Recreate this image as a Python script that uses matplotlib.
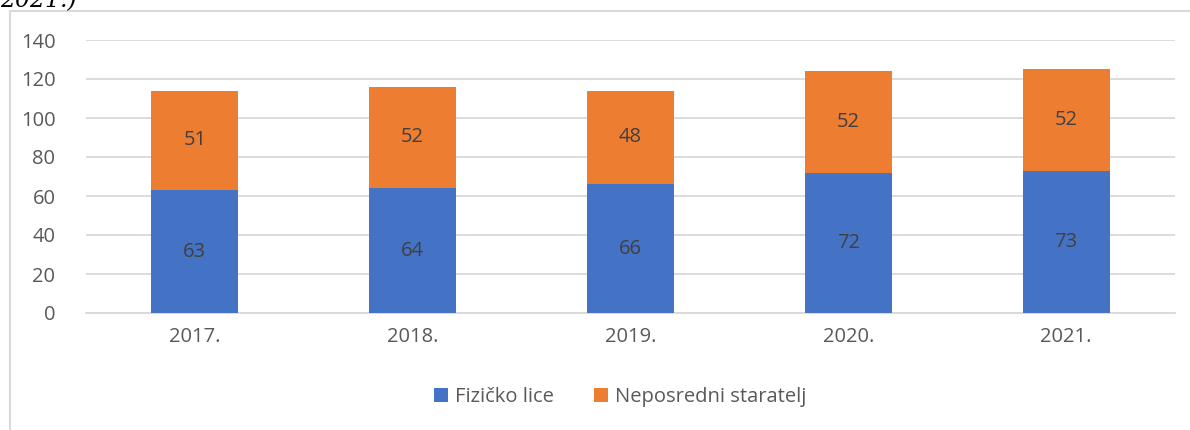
import matplotlib.pyplot as plt
import matplotlib.patches as mpatches
import numpy as np

years = ['2017.', '2018.', '2019.', '2020.', '2021.']
fizicko = [63, 64, 66, 72, 73]
neposredni = [51, 52, 48, 52, 52]

blue = '#4472C4'
orange = '#ED7D31'
txt = '#595959'

plt.rcParams['font.family'] = ['Open Sans', 'DejaVu Sans']

fig = plt.figure(figsize=(11.9, 4.3), dpi=100)
ax = fig.add_axes([86 / 1190, 1 - 313 / 430, (1175 - 86) / 1190, (313 - 40) / 430])

# chart frame (cut at right and bottom)
fig.patches.append(mpatches.Rectangle((10 / 1190, -0.2), 1.2, 1 - 11 / 430 + 0.2,
                                      transform=fig.transFigure, fill=False,
                                      edgecolor='#d9d9d9', lw=1.5, zorder=0))
# cut-off title fragment from the page above the chart
fig.text(0, 1 - 1 / 430, '2021.)', family='DejaVu Serif', style='italic',
         fontsize=17, color='black', va='center', ha='left')

x = np.arange(len(years))
b1 = ax.bar(x, fizicko, width=0.4, color=blue, label='Fizičko lice', zorder=3)
b2 = ax.bar(x, neposredni, width=0.4, bottom=fizicko, color=orange,
            label='Neposredni staratelj', zorder=3)

for rect, v in zip(b1, fizicko):
    ax.text(rect.get_x() + rect.get_width() / 2, v / 2, str(v), ha='center', va='center',
            fontsize=14.5, color='#404040', zorder=4)
for rect, base, v in zip(b2, fizicko, neposredni):
    ax.text(rect.get_x() + rect.get_width() / 2, base + v / 2, str(v), ha='center',
            va='center', fontsize=14.5, color='#404040', zorder=4)

ax.set_xlim(-0.5, len(years) - 0.5)
ax.set_ylim(0, 140)
ax.set_yticks(range(0, 141, 20))
ax.set_xticks(x)
ax.set_xticklabels(years)
ax.yaxis.grid(True, color='#d9d9d9', lw=1.3, zorder=0)
for s in ['top', 'right', 'left']:
    ax.spines[s].set_visible(False)
ax.spines['bottom'].set_color('#d9d9d9')
ax.spines['bottom'].set_linewidth(1.3)
ax.tick_params(length=0, labelsize=14.5, labelcolor=txt)
ax.tick_params(axis='y', pad=22)
ax.tick_params(axis='x', pad=10)

fig.legend(handles=[b1, b2], loc='center', bbox_to_anchor=(620 / 1190, 1 - 397 / 430),
           ncol=2, frameon=False, fontsize=14.5, labelcolor=txt, handlelength=0.7,
           handleheight=0.7, handletextpad=0.35, columnspacing=2.0)

fig.savefig('out.png', dpi=100)
